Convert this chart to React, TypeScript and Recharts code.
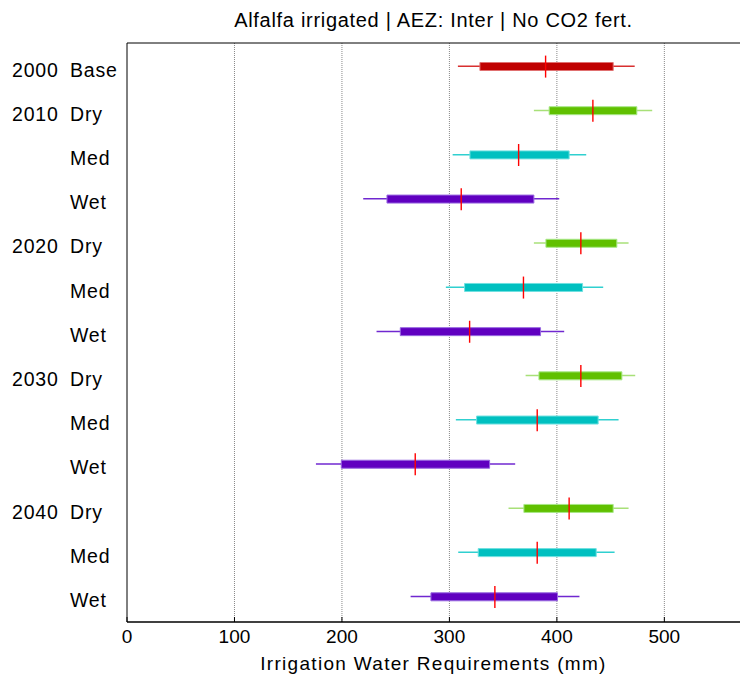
import React from 'react';
import { ComposedChart, Bar, Scatter, XAxis, YAxis, CartesianGrid, Cell } from 'recharts';

const years = ['2000', '2010', '', '', '2020', '', '', '2030', '', '', '2040', '', ''];
const scenarios = ['Base', 'Dry', 'Med', 'Wet', 'Dry', 'Med', 'Wet', 'Dry', 'Med', 'Wet', 'Dry', 'Med', 'Wet'];
const whiskerLow = [307.9, 378.6, 303.0, 219.8, 378.6, 296.7, 232.2, 370.9, 306.0, 175.8, 355.0, 308.2, 263.9];
const boxLow = [328.4, 392.8, 319.1, 241.9, 389.8, 314.1, 254.3, 383.3, 325.3, 199.4, 369.3, 326.8, 282.8];
const medians = [389.5, 433.5, 364.4, 311.0, 422.3, 368.9, 318.8, 422.3, 381.7, 268.2, 411.4, 381.7, 342.3];
const boxHigh = [452.4, 474.4, 411.4, 378.6, 455.8, 423.9, 384.8, 460.5, 438.4, 337.4, 452.4, 436.6, 400.6];
const whiskerHigh = [472.4, 488.7, 427.3, 402.2, 466.7, 443.1, 406.8, 472.9, 457.4, 361.2, 466.7, 453.7, 421.0];
const xTicks = [0, 100, 200, 300, 400, 500];
const title = 'Alfalfa irrigated | AEZ: Inter | No CO2 fert.';
const xLabel = 'Irrigation Water Requirements (mm)';

const boxColors: Record<string, string> = { Base: '#c00000', Dry: '#60c000', Med: '#00c0c0', Wet: '#6000c0' };
const edgeColors: Record<string, string> = { Base: '#e07070', Dry: '#a8e888', Med: '#70e0e0', Wet: '#9868e0' };
const whiskerColors: Record<string, string> = { Base: '#d83030', Dry: '#a8e078', Med: '#30d0d0', Wet: '#7028d0' };

const rows = scenarios.map((s, i) => ({
  id: String(i),
  whisker: [whiskerLow[i], whiskerHigh[i]],
  box: [boxLow[i], boxHigh[i]],
  med: medians[i],
}));

const FONT = '"Liberation Sans", Arial, sans-serif';
const yPad = { top: 1.5, bottom: 3 };
const X_MAX = 589;

const YTick = (props: any) => {
  const { x, y, payload } = props;
  const i = Number(payload.value);
  return (
    <g>
      <text x={x - 115} y={y} dy={10} fontSize={19.5} letterSpacing={0.8} fontFamily={FONT} fill="#000" textAnchor="start">
        {years[i]}
      </text>
      <text x={x - 57} y={y} dy={10} fontSize={19.5} letterSpacing={0.8} fontFamily={FONT} fill="#000" textAnchor="start">
        {scenarios[i]}
      </text>
    </g>
  );
};

const MedianLine = (props: any) => {
  const { cx, cy } = props;
  if (cx == null || cy == null) return null;
  return <line x1={cx} x2={cx} y1={cy - 11} y2={cy + 11} stroke="#ff0000" strokeWidth={1.4} />;
};

const gridX = (args: any) => {
  const scale = args && args.xAxis && args.xAxis.scale;
  if (scale && typeof scale === 'function') {
    return xTicks.filter((t) => t > 0).map((t) => scale(t));
  }
  if (scale && typeof scale.map === 'function') {
    return xTicks.filter((t) => t > 0).map((t) => scale.map(t));
  }
  return [];
};

export default function App() {
  return (
    <div style={{ position: 'absolute', left: 0, top: 0, width: 740, height: 682, background: '#fff', overflow: 'hidden' }}>
      <div
        style={{
          position: 'absolute',
          left: 127,
          top: 10,
          width: 613,
          textAlign: 'center',
          fontFamily: FONT,
          fontSize: 20,
          lineHeight: '20px',
          letterSpacing: 0.7,
          color: '#000',
          whiteSpace: 'nowrap',
        }}
      >
        {title}
      </div>
      <ComposedChart
        width={760}
        height={682}
        data={rows}
        layout="vertical"
        margin={{ top: 42, right: 0, bottom: 0, left: 0 }}
      >
        <CartesianGrid
          xAxisId="main"
          yAxisId="w"
          horizontal={false}
          stroke="#888888"
          strokeDasharray="1 1"
          verticalCoordinatesGenerator={gridX}
        />
        <XAxis
          xAxisId="main"
          type="number"
          domain={[0, X_MAX]}
          ticks={xTicks}
          allowDataOverflow
          height={60}
          tickSize={-5}
          tickMargin={13}
          axisLine={{ stroke: '#000', strokeWidth: 1.5 }}
          tickLine={{ stroke: '#000' }}
          tick={{ fontSize: 19, fontFamily: FONT, fill: '#000' }}
          label={{
            value: xLabel,
            position: 'insideBottom',
            offset: 12,
            dx: -10,
            fontSize: 19,
            fontFamily: FONT,
            fill: '#000',
            letterSpacing: 1.3,
          }}
        />
        <XAxis
          xAxisId="top"
          orientation="top"
          type="number"
          domain={[0, X_MAX]}
          ticks={xTicks}
          allowDataOverflow
          height={1}
          tick={false}
          tickSize={-5}
          axisLine={{ stroke: '#000', strokeWidth: 1 }}
          tickLine={{ stroke: '#000' }}
        />
        <XAxis xAxisId="med" type="number" dataKey="med" domain={[0, X_MAX]} allowDataOverflow height={0} hide />
        <YAxis
          yAxisId="w"
          type="category"
          dataKey="id"
          width={127}
          padding={yPad}
          axisLine={{ stroke: '#000', strokeWidth: 1 }}
          tickLine={false}
          tickSize={0}
          tickMargin={0}
          tick={<YTick />}
          interval={0}
        />
        <YAxis yAxisId="b" type="category" dataKey="id" padding={yPad} width={0} hide />
        <YAxis yAxisId="m" type="category" dataKey="id" padding={yPad} width={0} hide />
        <Bar xAxisId="main" yAxisId="w" dataKey="whisker" barSize={1.5} isAnimationActive={false}>
          {scenarios.map((s, i) => (
            <Cell key={`w${i}`} fill={whiskerColors[s]} />
          ))}
        </Bar>
        <Bar xAxisId="main" yAxisId="b" dataKey="box" barSize={8} isAnimationActive={false}>
          {scenarios.map((s, i) => (
            <Cell key={`b${i}`} fill={boxColors[s]} stroke={edgeColors[s]} strokeWidth={1} />
          ))}
        </Bar>
        <Scatter xAxisId="med" yAxisId="m" dataKey="med" shape={<MedianLine />} isAnimationActive={false} />
      </ComposedChart>
    </div>
  );
}
